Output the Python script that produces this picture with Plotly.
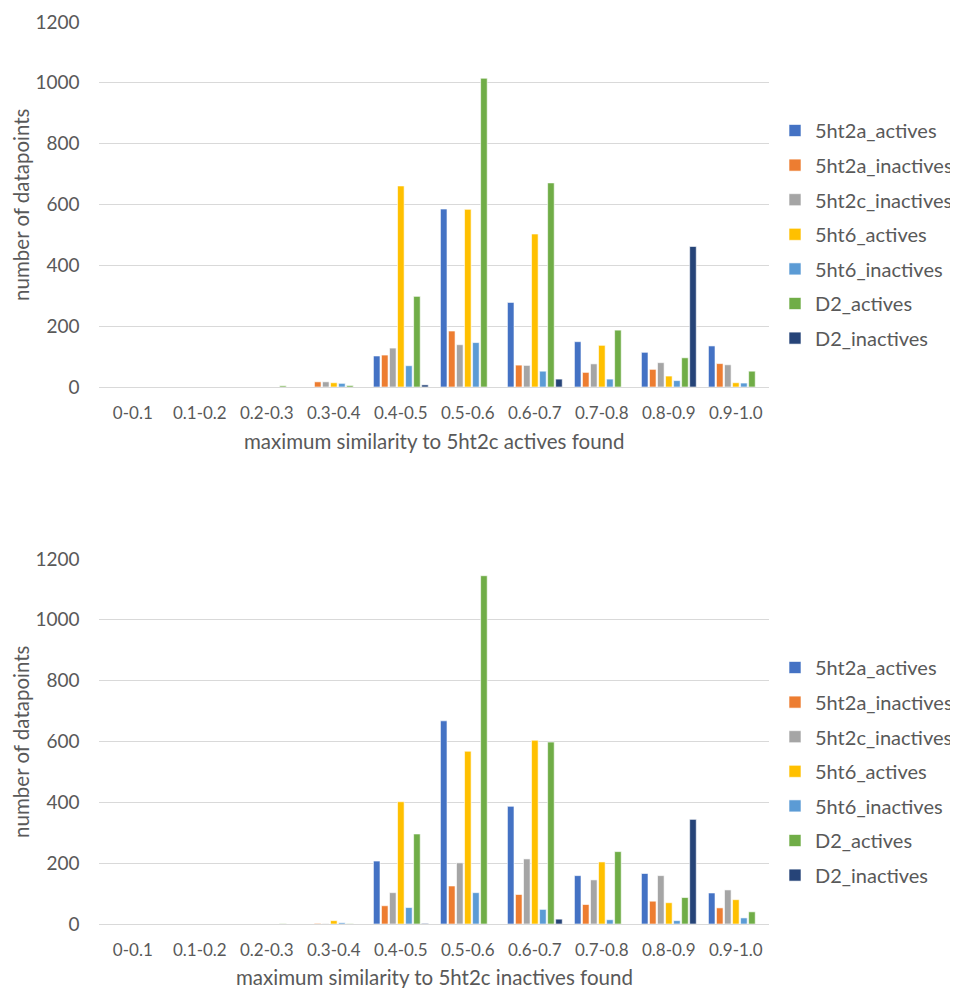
import plotly.graph_objects as go

categories = ["0-0.1", "0.1-0.2", "0.2-0.3", "0.3-0.4", "0.4-0.5",
              "0.5-0.6", "0.6-0.7", "0.7-0.8", "0.8-0.9", "0.9-1.0"]
series_names = ["5ht2a_actives", "5ht2a_inactives", "5ht2c_inactives",
                "5ht6_actives", "5ht6_inactives", "D2_actives", "D2_inactives"]
colors = ["#4472C4", "#ED7D31", "#A5A5A5", "#FFC000", "#5B9BD5", "#70AD47", "#264478"]

# top chart: maximum similarity to 5ht2c actives
top_5ht2a_actives   = [0, 0, 0, 0, 102, 585, 278, 149, 114, 135]
top_5ht2a_inactives = [0, 0, 0, 17, 105, 184, 72, 48, 58, 77]
top_5ht2c_inactives = [0, 0, 0, 17, 128, 139, 71, 76, 80, 73]
top_5ht6_actives    = [0, 0, 0, 14, 661, 584, 503, 137, 36, 14]
top_5ht6_inactives  = [0, 0, 0, 12, 70, 146, 52, 26, 21, 13]
top_D2_actives      = [0, 0, 4, 5, 298, 1015, 671, 187, 96, 52]
top_D2_inactives    = [0, 0, 0, 0, 7, 0, 26, 0, 462, 0]

# bottom chart: maximum similarity to 5ht2c inactives
bot_5ht2a_actives   = [0, 0, 0, 0, 207, 668, 387, 159, 166, 102]
bot_5ht2a_inactives = [0, 0, 0, 2, 60, 125, 97, 64, 75, 53]
bot_5ht2c_inactives = [0, 0, 0, 1, 103, 201, 214, 145, 159, 112]
bot_5ht6_actives    = [0, 0, 0, 11, 402, 568, 604, 204, 70, 80]
bot_5ht6_inactives  = [0, 0, 0, 4, 54, 103, 48, 14, 11, 20]
bot_D2_actives      = [0, 0, 1, 1, 296, 1145, 598, 238, 87, 40]
bot_D2_inactives    = [0, 0, 0, 0, 2, 0, 16, 0, 344, 0]

top_series = [top_5ht2a_actives, top_5ht2a_inactives, top_5ht2c_inactives,
              top_5ht6_actives, top_5ht6_inactives, top_D2_actives, top_D2_inactives]
bot_series = [bot_5ht2a_actives, bot_5ht2a_inactives, bot_5ht2c_inactives,
              bot_5ht6_actives, bot_5ht6_inactives, bot_D2_actives, bot_D2_inactives]

y_ticks = [0, 200, 400, 600, 800, 1000, 1200]
x_title_top = "maximum similarity to 5ht2c actives found"
x_title_bot = "maximum similarity to 5ht2c inactives found"
y_title = "number of datapoints"

FONT = "Lato, Open Sans, sans-serif"
TXT = "#595959"
OFF = 8  # default body margin of the page
W, H = 958 - OFF, 988 - OFF


def px(x):
    return (x - OFF) / W


def py(y):
    return 1 - (y - OFF) / H


fig = go.Figure()
for i, name in enumerate(series_names):
    fig.add_trace(go.Bar(x=categories, y=top_series[i], name=name,
                         marker=dict(color=colors[i], line=dict(color="white", width=0.6)),
                         xaxis="x", yaxis="y", legend="legend", legendgroup="t" + str(i)))
for i, name in enumerate(series_names):
    fig.add_trace(go.Bar(x=categories, y=bot_series[i], name=name,
                         marker=dict(color=colors[i], line=dict(color="white", width=0.6)),
                         xaxis="x2", yaxis="y2", legend="legend2", legendgroup="b" + str(i)))

xd = [px(100), px(775)]
top_dom = [py(387), py(22)]
bot_dom = [py(924), py(559)]

axis_x = dict(domain=xd, showgrid=False, showline=False, zeroline=False,
              ticks="outside", ticklen=11, tickcolor="rgba(0,0,0,0)",
              tickfont=dict(family=FONT, size=17, color=TXT), automargin=False)
axis_y = dict(range=[0, 1200], tickvals=y_ticks, showgrid=True, gridcolor="#D9D9D9",
              gridwidth=1, zeroline=True, zerolinecolor="#D9D9D9", zerolinewidth=1,
              showline=False, ticks="outside", ticklen=15, tickcolor="rgba(0,0,0,0)",
              tickfont=dict(family=FONT, size=19, color=TXT), automargin=False)

LEG_FONT = dict(family=FONT, size=20, color=TXT)
fig.update_layout(
    width=W, height=H,
    margin=dict(l=0, r=0, t=0, b=0),
    paper_bgcolor="white", plot_bgcolor="white",
    barmode="group", bargap=0.16, bargroupgap=0.18,
    xaxis=dict(axis_x, anchor="y"),
    yaxis=dict(axis_y, domain=top_dom, anchor="x"),
    xaxis2=dict(axis_x, anchor="y2"),
    yaxis2=dict(axis_y, domain=bot_dom, anchor="x2"),
    legend=dict(x=px(781), y=py(111), xanchor="left", yanchor="top",
                font=LEG_FONT, traceorder="grouped",
                tracegroupgap=5.6, bgcolor="rgba(0,0,0,0)"),
    legend2=dict(x=px(781), y=py(648), xanchor="left", yanchor="top",
                 font=LEG_FONT, traceorder="grouped",
                 tracegroupgap=5.6, bgcolor="rgba(0,0,0,0)"),
    showlegend=True,
)

ann_font = dict(family=FONT, size=20.5, color=TXT)
fig.add_annotation(text=x_title_top, x=px(437.5), y=py(441), xref="paper", yref="paper",
                   showarrow=False, font=ann_font, xanchor="center", yanchor="middle")
fig.add_annotation(text=x_title_bot, x=px(437.5), y=py(977), xref="paper", yref="paper",
                   showarrow=False, font=ann_font, xanchor="center", yanchor="middle")
fig.add_annotation(text=y_title, x=px(21), y=py(204), xref="paper", yref="paper",
                   showarrow=False, font=ann_font, textangle=-90, xanchor="center", yanchor="middle")
fig.add_annotation(text=y_title, x=px(21), y=py(741), xref="paper", yref="paper",
                   showarrow=False, font=ann_font, textangle=-90, xanchor="center", yanchor="middle")

fig.write_html("out.html")
